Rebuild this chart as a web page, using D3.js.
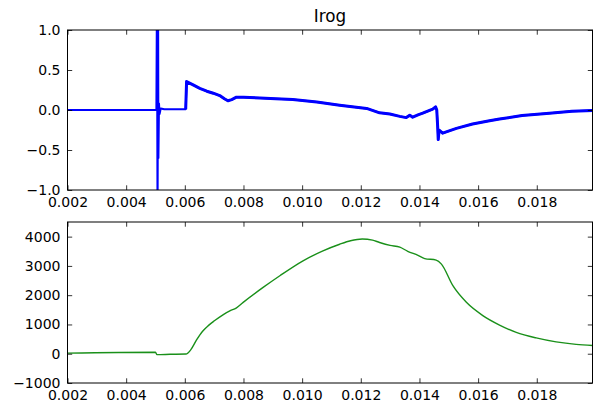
<!DOCTYPE html>
<html>
<head>
<meta charset="utf-8">
<script src="https://cdn.jsdelivr.net/npm/d3@7"></script>
<style>
  body { margin: 0; background: #fff; }
  svg { display: block; font-family: "DejaVu Sans", sans-serif; }
</style>
</head>
<body>
<svg width="593" height="405"></svg>
<script>
// x range and ticks
const xDomain = [0.002, 0.0199];
const xTicks = [0.002, 0.004, 0.006, 0.008, 0.010, 0.012, 0.014, 0.016, 0.018];

// top panel: Irog
const irogTicks = [-1.0, -0.5, 0.0, 0.5, 1.0];
const irogT = [0.002, 0.0035, 0.00503, 0.00505, 0.00507, 0.00509, 0.0051, 0.00512, 0.00514, 0.00518,
  0.0053, 0.0058, 0.00603, 0.00606, 0.0063, 0.00651, 0.00675, 0.00697, 0.00719, 0.00735,
  0.00747, 0.0076, 0.00776, 0.008, 0.00856, 0.0091, 0.00968, 0.0105, 0.01128, 0.0122,
  0.01264, 0.01299, 0.01333, 0.01355, 0.01367, 0.01377, 0.01395, 0.01411, 0.01445, 0.01455,
  0.01459, 0.01462, 0.01464, 0.01467, 0.01479, 0.01526, 0.01581, 0.01639, 0.01673, 0.0175,
  0.01843, 0.0192, 0.0199];
const irogV = [0, 0, 0, 1.5, -1.5, 1.2, -0.6, 0.08, -0.05, 0.02,
  0.01, 0.01, 0.01, 0.355, 0.31, 0.27, 0.235, 0.21, 0.18, 0.14,
  0.115, 0.13, 0.16, 0.16, 0.15, 0.14, 0.13, 0.1, 0.06, 0.02,
  -0.035, -0.05, -0.08, -0.095, -0.065, -0.09, -0.06, -0.04, 0.01, 0.04,
  0.0, -0.2, -0.37, -0.25, -0.29, -0.23, -0.175, -0.134, -0.112, -0.07,
  -0.04, -0.015, -0.005];

// bottom panel
const lowTicks = [-1000, 0, 1000, 2000, 3000, 4000];
const lowT = [0.002, 0.005, 0.00505, 0.0055, 0.00604, 0.0062, 0.0064, 0.0066, 0.0068, 0.00702, 0.0073,
  0.00755, 0.00775, 0.00799, 0.00867, 0.00924, 0.01003, 0.01071, 0.01128, 0.01165, 0.01205,
  0.0124, 0.01264, 0.013, 0.01333, 0.0136, 0.01395, 0.01418, 0.01457, 0.01475, 0.01514,
  0.0156, 0.01616, 0.01673, 0.0173, 0.01798, 0.01866, 0.01934, 0.0199];
const lowV = [20, 50, -30, -20, -10, 130, 470, 760, 960, 1133, 1330,
  1470, 1560, 1755, 2265, 2663, 3173, 3514, 3741, 3860, 3920,
  3880, 3800, 3700, 3640, 3500, 3360, 3250, 3200, 3061, 2323,
  1755, 1303, 980, 730, 540, 405, 320, 282];

const svg = d3.select("svg");
const left = 67.5, right = 592.5;
const tick = 4.7;
const minus = s => s.replace("-", "\u2212");

const x = d3.scaleLinear().domain(xDomain).range([left, right]);

function panel(top, bottom, yDomain, yTicks, yFmt, id) {
  const y = d3.scaleLinear().domain(yDomain).range([bottom, top]);
  const g = svg.append("g");

  g.append("clipPath").attr("id", id)
    .append("rect").attr("x", left).attr("y", top)
    .attr("width", right - left).attr("height", bottom - top);

  const plot = g.append("g").attr("clip-path", `url(#${id})`);

  const axes = [
    d3.axisBottom(x).tickValues(xTicks).tickFormat(d3.format(".3f")).tickSize(-tick).tickPadding(7),
    d3.axisTop(x).tickValues(xTicks).tickFormat("").tickSize(-tick),
    d3.axisLeft(y).tickValues(yTicks).tickFormat(d => minus(yFmt(d))).tickSize(-tick).tickPadding(7),
    d3.axisRight(y).tickValues(yTicks).tickFormat("").tickSize(-tick)
  ];
  const pos = [[0, bottom], [0, top], [left, 0], [right, 0]];
  axes.forEach((a, i) => {
    const ag = g.append("g").attr("transform", `translate(${pos[i][0]},${pos[i][1]})`).call(a);
    ag.select(".domain").remove();
    ag.selectAll("line").attr("stroke", "#000").attr("stroke-width", 0.8);
    ag.selectAll("text").attr("font-size", 14).attr("fill", "#000")
      .attr("font-family", "DejaVu Sans, sans-serif");
  });

  g.append("rect").attr("x", left).attr("y", top)
    .attr("width", right - left).attr("height", bottom - top)
    .attr("fill", "none").attr("stroke", "#000").attr("stroke-width", 1);

  return { y, plot };
}

// top panel
const p1 = panel(30, 190, [-1, 1], irogTicks, d3.format(".1f"), "clipTop");
const irog = irogT.map((t, i) => ({ t, v: irogV[i] }));
const line1 = d3.line().x(d => x(d.t)).y(d => p1.y(d.v));
p1.plot.append("path").datum(irog)
  .attr("d", line1).attr("fill", "none").attr("stroke", "#0000ff")
  .attr("stroke-width", 2).attr("stroke-linejoin", "round");
p1.plot.append("path").datum(irog.filter(d => d.t >= 0.00603))
  .attr("d", line1).attr("fill", "none").attr("stroke", "#0000ff")
  .attr("stroke-width", 3).attr("stroke-linejoin", "round");

svg.append("text").attr("x", (left + right) / 2).attr("y", 22)
  .attr("text-anchor", "middle").attr("font-size", 16.8).text("Irog");

// bottom panel
const p2 = panel(222, 383, [-1000, 4500], lowTicks, d3.format("d"), "clipBot");
const low = lowT.map((t, i) => ({ t, v: lowV[i] }));
p2.plot.append("path").datum(low)
  .attr("d", d3.line().x(d => x(d.t)).y(d => p2.y(d.v)).curve(d3.curveMonotoneX))
  .attr("fill", "none").attr("stroke", "#1a901a").attr("stroke-width", 1.4);
</script>
</body>
</html>
